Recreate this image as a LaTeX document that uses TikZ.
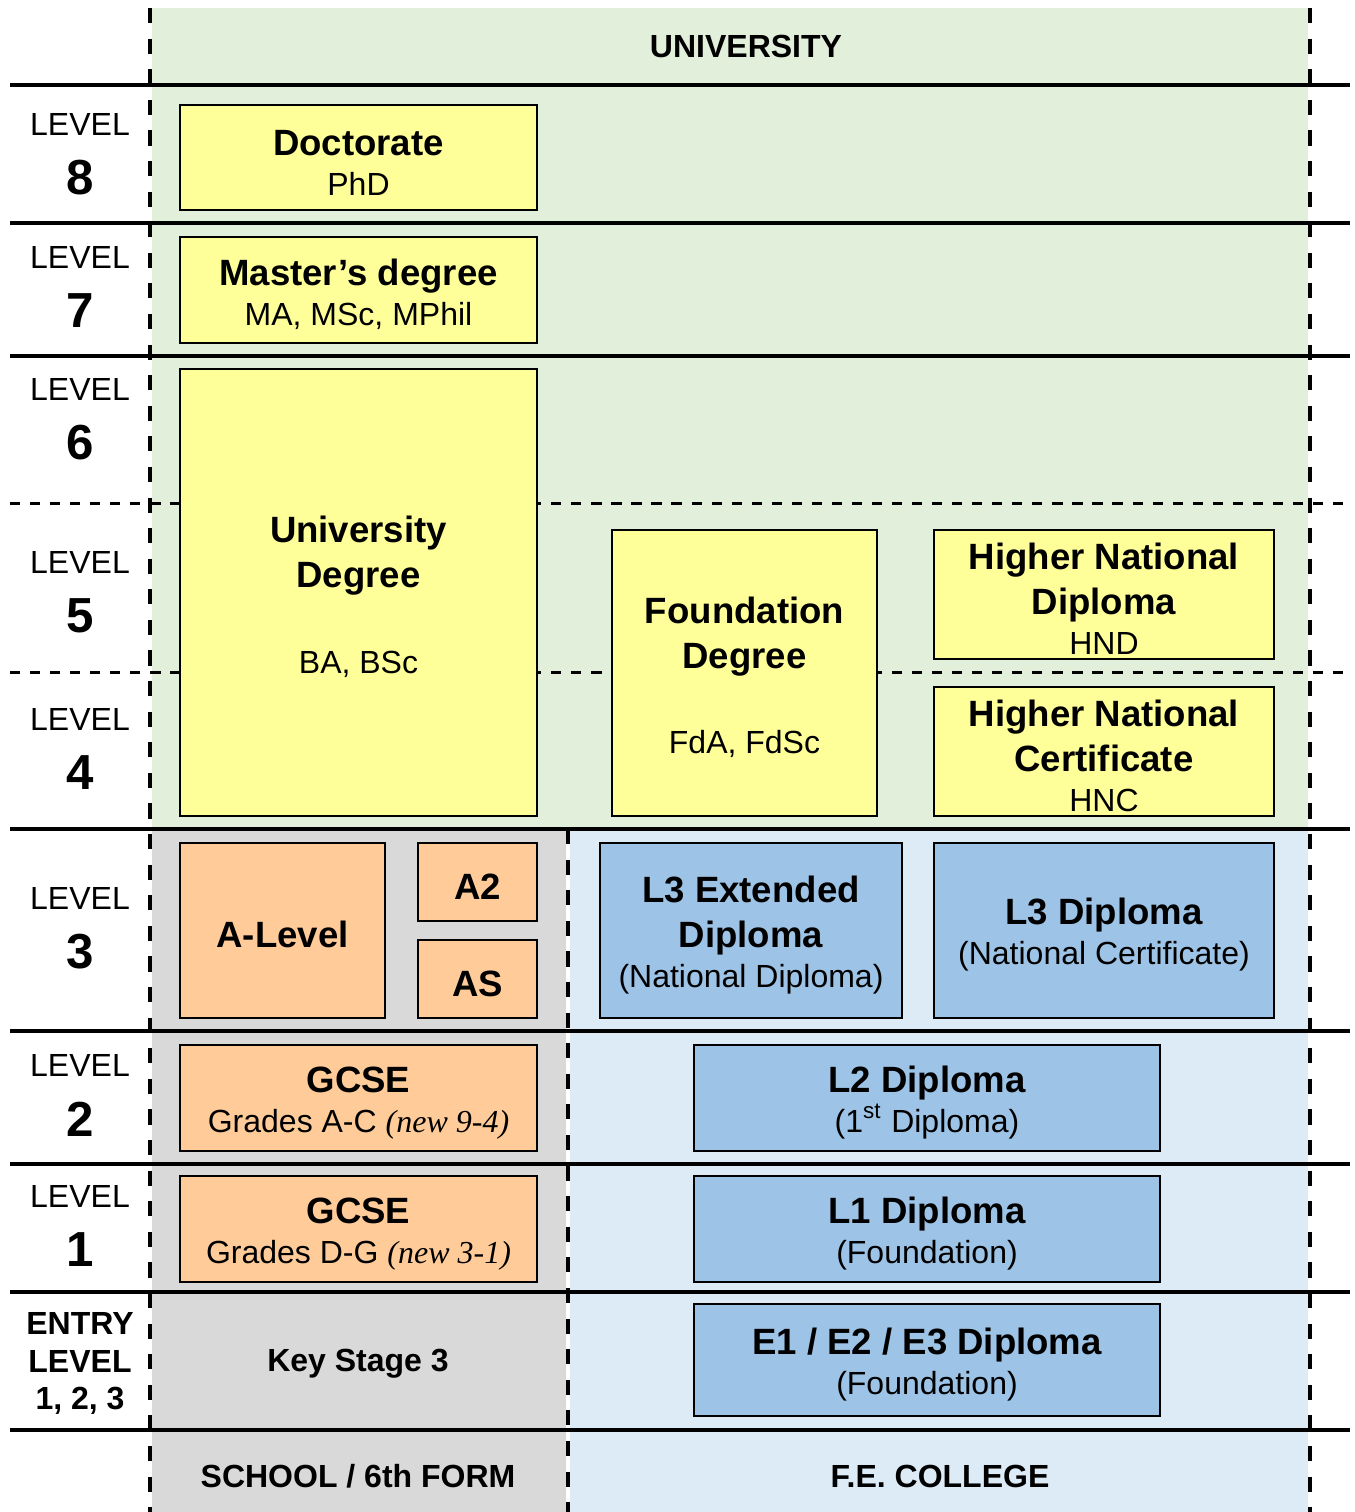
\documentclass[tikz,border=0pt]{standalone}
\usepackage{fontspec}
\setmainfont{Liberation Sans}
\newfontfamily\kserif{Liberation Serif}
\definecolor{kgreen}{HTML}{E2EFDA}
\definecolor{kyellow}{HTML}{FFFF99}
\definecolor{korange}{HTML}{FFCC99}
\definecolor{kgrey}{HTML}{D9D9D9}
\definecolor{klblue}{HTML}{DDEBF7}
\definecolor{kblue}{HTML}{9DC3E6}
\newcommand\khead[1]{{\fontsize{10.4}{12.8}\selectfont\bfseries #1}}
\newcommand\ktop{\rule{0pt}{10pt}}
\tikzset{
  qual/.style={draw,line width=0.7pt,inner sep=0pt,outer sep=0pt,align=center,font=\fontsize{9.1}{11.4}\selectfont},
  rowline/.style={line width=1pt},
  subline/.style={line width=0.85pt,dash pattern=on 2.9pt off 2.8pt},
  colline/.style={line width=1.1pt,dash pattern=on 4.3pt off 4.4pt},
  lvtxt/.style={font=\fontsize{9.1}{11}\selectfont},
  lvnum/.style={font=\fontsize{14}{16}\selectfont\bfseries},
  areatxt/.style={font=\fontsize{9.1}{11}\selectfont\bfseries}
}
\begin{document}
\begin{tikzpicture}[x=0.01cm,y=-0.01cm]
\useasboundingbox (0,0) rectangle (1354,1512);
\pgfmathsetmacro{\klab}{80}
\pgfmathsetmacro{\kgap}{54}
% areas
\fill[kgreen](152,8) rectangle (1308,829);
\fill[kgrey](152,829) rectangle (566,1512);
\fill[klblue](570,829) rectangle (1308,1512);
% level lines
\foreach \hy in {85,223,356,829,1031,1164,1292,1430}{\draw[rowline](10,\hy)--(1350,\hy);}
\foreach \hy in {503,672}{\draw[subline](10,\hy)--(1350,\hy);}
% university
\node[qual,fill=kyellow,minimum width=3.57cm,minimum height=1.05cm] (doc) at (358.5,157.5) {\ktop\khead{Doctorate}\\PhD};
\node[qual,fill=kyellow,minimum width=3.57cm,minimum height=1.06cm] (mas) at (358.5,290) {\ktop\khead{Master’s degree}\\MA, MSc, MPhil};
\node[qual,fill=kyellow,minimum width=3.57cm,minimum height=4.47cm] (udeg) at (358.5,592.5) {\ktop\khead{University}\\[1.4pt]\khead{Degree}\\[12.8pt]BA, BSc};
\node[qual,fill=kyellow,minimum width=2.65cm,minimum height=2.86cm] (fdeg) at (744.5,673) {\ktop\khead{Foundation}\\[1.4pt]\khead{Degree}\\[12.8pt]FdA, FdSc};
\node[qual,fill=kyellow,minimum width=3.40cm,minimum height=1.29cm] (hnd) at (1104,594.5) {\ktop\khead{Higher National}\\[1.4pt]\khead{Diploma}\\HND};
\node[qual,fill=kyellow,minimum width=3.40cm,minimum height=1.29cm] (hnc) at (1104,751.5) {\ktop\khead{Higher National}\\[1.4pt]\khead{Certificate}\\HNC};
% school
\node[qual,fill=korange,minimum width=2.05cm,minimum height=1.75cm] (alev) at (282.5,930.5) {\ktop\khead{A-Level}};
\node[qual,fill=korange,minimum width=1.19cm,minimum height=0.78cm] (atwo) at (477.5,882) {\ktop\khead{A2}};
\node[qual,fill=korange,minimum width=1.19cm,minimum height=0.78cm] (aas) at (477.5,979) {\ktop\khead{AS}};
\node[qual,fill=korange,minimum width=3.57cm,minimum height=1.06cm] (gcsetwo) at (358.5,1098) {\ktop\khead{GCSE}\\Grades A-C {\kserif\itshape (new 9-4)}};
\node[qual,fill=korange,minimum width=3.57cm,minimum height=1.06cm] (gcseone) at (358.5,1229) {\ktop\khead{GCSE}\\Grades D-G {\kserif\itshape (new 3-1)}};
% college
\node[qual,fill=kblue,minimum width=3.02cm,minimum height=1.75cm] (lthx) at (751,930.5) {\ktop\khead{L3 Extended}\\[1.4pt]\khead{Diploma}\\(National Diploma)};
\node[qual,fill=kblue,minimum width=3.40cm,minimum height=1.75cm] (lthd) at (1104,930.5) {\ktop\khead{L3 Diploma}\\(National Certificate)};
\node[qual,fill=kblue,minimum width=4.66cm,minimum height=1.06cm] (ltwo) at (927,1098) {\ktop\khead{L2 Diploma}\\(1\textsuperscript{st} Diploma)};
\node[qual,fill=kblue,minimum width=4.66cm,minimum height=1.06cm] (lone) at (927,1229) {\ktop\khead{L1 Diploma}\\(Foundation)};
\node[qual,fill=kblue,minimum width=4.66cm,minimum height=1.12cm] (entry) at (927,1360) {\ktop\khead{E1 / E2 / E3 Diploma}\\(Foundation)};
% columns
\foreach \vx in {150,1310}{\draw[colline](\vx,8)--(\vx,1512);}
\draw[colline](568,829)--(568,1512);
% labels
\foreach \lnum/\ly in {8/124,7/257,6/389,5/562,4/719,3/898,2/1065,1/1196}{
  \node[lvtxt] (lv\lnum) at (\klab,\ly) {LEVEL};
  \node[lvnum] (ln\lnum) at (\klab,\ly+\kgap) {\lnum};
}
\node[areatxt,align=center,font=\fontsize{9.1}{10.7}\selectfont\bfseries] (elv) at (\klab,1363.5) {ENTRY\\LEVEL\\1, 2, 3};
\node[areatxt] (uni) at (746,46) {UNIVERSITY};
\node[areatxt] (kstage) at (358,1364) {Key Stage 3};
\node[areatxt] (school) at (358,1476) {SCHOOL / 6th FORM};
\node[areatxt] (college) at (940,1476) {F.E. COLLEGE};
\end{tikzpicture}
\end{document}
